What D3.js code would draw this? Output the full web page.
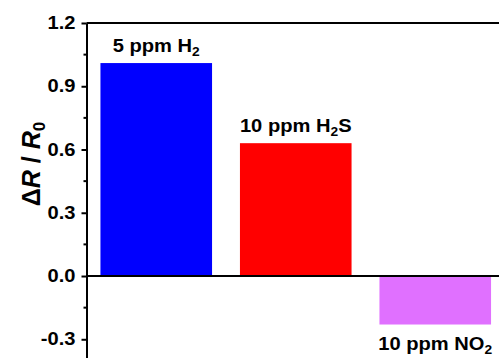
<!DOCTYPE html>
<html><head><meta charset="utf-8">
<script src="https://cdn.jsdelivr.net/npm/d3@7"></script>
<style>body{margin:0;background:#fff}svg{display:block}text{font-family:"Liberation Sans",Arial,sans-serif;font-weight:bold}</style>
</head><body>
<script>
const categories = ["H2", "H2S", "NO2"];
const values = [1.01, 0.63, -0.23];
const colors = ["#0000ff", "#ff0000", "#e070ff"];
const labelMain = ["5 ppm H", "10 ppm H", "10 ppm NO"];
const labelSub = ["2", "2", "2"];
const labelTail = ["", "S", ""];
const yTicks = [-0.3, 0.0, 0.3, 0.6, 0.9, 1.2];
const yMinor = [-0.45, -0.15, 0.15, 0.45, 0.75, 1.05];

const W = 499, H = 358;
const SX = 1.15; // horizontal stretch of glyphs as in reference
const svg = d3.select("body").append("svg").attr("width", W).attr("height", H);

const x = d3.scaleBand().domain(categories).range([86.5, 505]).paddingInner(0.2).paddingOuter(0.1);
const y = d3.scaleLinear().domain([-0.45, 1.2]).range([370.9, 23]);

// bars
svg.selectAll("rect.bar").data(values).enter().append("rect")
  .attr("x", (d, i) => x(categories[i]))
  .attr("width", x.bandwidth())
  .attr("y", d => y(Math.max(0, d)))
  .attr("height", d => Math.abs(y(d) - y(0)))
  .attr("fill", (d, i) => colors[i]);

// zero line
svg.append("line").attr("x1", x.range()[0]).attr("x2", W + 10)
  .attr("y1", y(0)).attr("y2", y(0)).attr("stroke", "#000").attr("stroke-width", 2);
// top frame
svg.append("line").attr("x1", x.range()[0]).attr("x2", W + 10)
  .attr("y1", y(1.2)).attr("y2", y(1.2)).attr("stroke", "#000").attr("stroke-width", 2);

// y axis
const yAxis = d3.axisLeft(y).tickValues(yTicks).tickFormat(d3.format(".1f")).tickSize(5).tickSizeOuter(0).tickPadding(5);
const gy = svg.append("g").attr("transform", `translate(${x.range()[0]},0)`).call(yAxis);
gy.select(".domain").attr("stroke-width", 2);
gy.selectAll(".tick line").attr("stroke-width", 2);
gy.selectAll(".tick text")
  .attr("font-size", 17.5).attr("font-family", "Liberation Sans, Arial, sans-serif").attr("font-weight", "bold").attr("fill", "#000")
  .attr("x", null)
  .attr("transform", `translate(-11,0) scale(${SX},1)`)
  .text(d => d3.format(".1f")(d).replace("−", "-"));
// minor ticks
svg.append("g").selectAll("line").data(yMinor).enter().append("line")
  .attr("x1", x.range()[0] - 3).attr("x2", x.range()[0])
  .attr("y1", d => y(d)).attr("y2", d => y(d))
  .attr("stroke", "#000").attr("stroke-width", 2);

// bar labels
const lab = svg.selectAll("text.lab").data(values).enter().append("text")
  .attr("class", "lab")
  .attr("transform", (d, i) => `translate(${x(categories[i]) + x.bandwidth() / 2},${d >= 0 ? y(d) - 11 : y(d) + 25}) scale(${SX},1)`)
  .attr("text-anchor", "middle")
  .attr("font-size", 17.5);
lab.append("tspan").text((d, i) => labelMain[i]);
lab.append("tspan").attr("font-size", 12).attr("dy", 4).text((d, i) => labelSub[i]);
lab.append("tspan").attr("dy", -4).text((d, i) => labelTail[i]);

// y label
const yl = svg.append("text").attr("transform", "translate(40,164) rotate(-90)")
  .attr("text-anchor", "middle").attr("font-size", 25);
yl.append("tspan").text("Δ");
yl.append("tspan").attr("font-style", "italic").text("R");
yl.append("tspan").text(" / ");
yl.append("tspan").attr("font-style", "italic").text("R");
yl.append("tspan").attr("font-size", 17).attr("dy", 5).text("0");
</script>
</body></html>
